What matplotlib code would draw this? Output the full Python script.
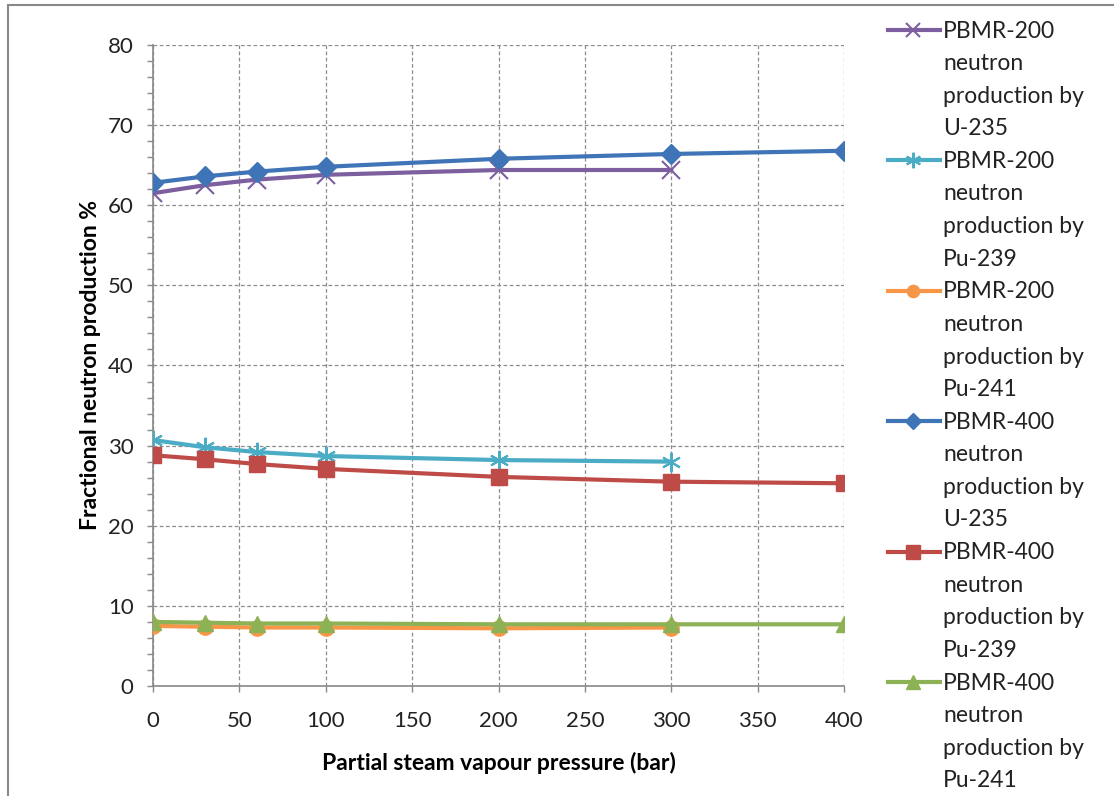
import matplotlib.pyplot as plt
from matplotlib.lines import Line2D
from matplotlib.patches import Rectangle
from matplotlib.ticker import MultipleLocator

plt.rcParams['font.family'] = ['Lato', 'DejaVu Sans']

# partial steam vapour pressure (bar)
p200 = [0, 30, 60, 100, 200, 300]
p400 = [0, 30, 60, 100, 200, 300, 400]

# fractional neutron production (%)
pbmr200_u235 = [61.5, 62.5, 63.2, 63.8, 64.4, 64.4]
pbmr200_pu239 = [30.7, 29.8, 29.2, 28.7, 28.2, 28.0]
pbmr200_pu241 = [7.5, 7.4, 7.3, 7.3, 7.2, 7.3]
pbmr400_u235 = [62.8, 63.6, 64.2, 64.8, 65.8, 66.4, 66.8]
pbmr400_pu239 = [28.8, 28.3, 27.7, 27.1, 26.1, 25.5, 25.3]
pbmr400_pu241 = [8.0, 7.9, 7.8, 7.8, 7.7, 7.7, 7.7]

labels = [
    "PBMR-200\nneutron\nproduction by\nU-235",
    "PBMR-200\nneutron\nproduction by\nPu-239",
    "PBMR-200\nneutron\nproduction by\nPu-241",
    "PBMR-400\nneutron\nproduction by\nU-235",
    "PBMR-400\nneutron\nproduction by\nPu-239",
    "PBMR-400\nneutron\nproduction by\nPu-241",
]

W, H = 1114, 796
fig = plt.figure(figsize=(W / 100, H / 100), dpi=100)
ax = fig.add_axes([153 / W, 1 - 686 / H, 691 / W, 641 / H])

lw = 3
styles = [
    dict(color="#7D5FA0", marker="x", ms=13, mew=1.5),
    dict(color="#4BACC6", marker=(6, 2, 0), ms=14, mew=1.5),
    dict(color="#F79646", marker="o", ms=11),
    dict(color="#3F74B6", marker="D", ms=10),
    dict(color="#BE4B48", marker="s", ms=12),
    dict(color="#8DB255", marker="^", ms=12),
]
series = [
    (p200, pbmr200_u235), (p200, pbmr200_pu239), (p200, pbmr200_pu241),
    (p400, pbmr400_u235), (p400, pbmr400_pu239), (p400, pbmr400_pu241),
]
for i, ((x, y), st) in enumerate(zip(series, styles)):
    ax.plot(x, y, lw=lw, zorder=3 + (i >= 3), **st)

ax.set_xlim(0, 400)
ax.set_ylim(0, 80)
ax.xaxis.set_major_locator(MultipleLocator(50))
ax.yaxis.set_major_locator(MultipleLocator(10))
ax.yaxis.set_minor_locator(MultipleLocator(2))
ax.tick_params(axis="both", which="major", labelsize=16, color="#888888",
               length=4, width=1, pad=10, labelcolor="#222222")
ax.tick_params(axis="y", which="minor", color="#888888", length=4, width=1)
ax.tick_params(axis="x", pad=14)

ax.grid(True, which="major", color="#8c8c8c", linestyle=(0, (3, 2)), lw=0.9)
ax.set_axisbelow(True)
for side in ("top", "right"):
    ax.spines[side].set_visible(False)
for side in ("left", "bottom"):
    ax.spines[side].set_color("#888888")
    ax.spines[side].set_linewidth(1.2)

ax.set_xlabel("Partial steam vapour pressure (bar)", fontsize=16.5, fontweight="bold",
              labelpad=15)
ax.set_ylabel("Fractional neutron production %", fontsize=16.5, fontweight="bold",
              labelpad=5)

# legend on the right, handle level with the first line of each entry
line_step = 32.6
first_base = 37.5
for i, (lab, st) in enumerate(zip(labels, styles)):
    for k, part in enumerate(lab.split("\n")):
        base = first_base + (4 * i + k) * line_step
        fig.text(943 / W, 1 - base / H, part, fontsize=16.5, color="#222222",
                 va="baseline", ha="left")
    yc = 1 - (first_base - 7.5 + 4 * i * line_step) / H
    st_leg = dict(st)
    st_leg["ms"] = st["ms"] * 0.8
    fig.add_artist(Line2D([888 / W, 913 / W, 940 / W], [yc, yc, yc], lw=lw,
                          markevery=[1], transform=fig.transFigure, **st_leg))

# outer chart border
fig.patches.append(Rectangle((8 / W, -0.1), 1.2, 1.1 - 5 / H,
                             transform=fig.transFigure, fill=False,
                             edgecolor="#888888", lw=1.5))

fig.savefig("out.png", dpi=100)
